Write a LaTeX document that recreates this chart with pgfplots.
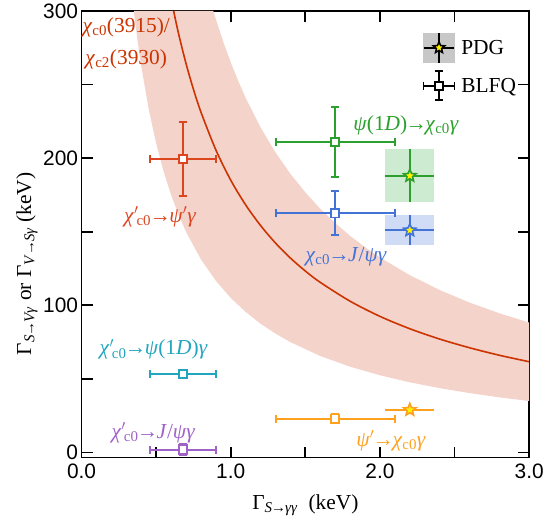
\documentclass[border=0pt]{standalone}
\usepackage{pgfplots}
\pgfplotsset{compat=1.18}
\usepackage{fontspec}
\setmainfont{Liberation Serif}
\setsansfont{Liberation Sans}

\definecolor{cRed}{HTML}{CC3300}
\definecolor{cRedPt}{HTML}{DD4420}
\definecolor{cBand}{HTML}{F3D3CA}
\definecolor{cGreen}{HTML}{2CA02C}
\definecolor{cGreenBox}{HTML}{CDEBD1}
\definecolor{cBlue}{HTML}{4473D7}
\definecolor{cBlueBox}{HTML}{D0DCF5}
\definecolor{cCyan}{HTML}{22A5BE}
\definecolor{cPurple}{HTML}{9F62C8}
\definecolor{cOrange}{HTML}{FFA11F}

\pgfdeclareplotmark{fstar}{%
  \pgfpathmoveto{\pgfpointpolar{90}{\pgfplotmarksize}}%
  \pgfpathlineto{\pgfpointpolar{126}{0.45\pgfplotmarksize}}%
  \pgfpathlineto{\pgfpointpolar{162}{\pgfplotmarksize}}%
  \pgfpathlineto{\pgfpointpolar{198}{0.45\pgfplotmarksize}}%
  \pgfpathlineto{\pgfpointpolar{234}{\pgfplotmarksize}}%
  \pgfpathlineto{\pgfpointpolar{270}{0.45\pgfplotmarksize}}%
  \pgfpathlineto{\pgfpointpolar{306}{\pgfplotmarksize}}%
  \pgfpathlineto{\pgfpointpolar{342}{0.45\pgfplotmarksize}}%
  \pgfpathlineto{\pgfpointpolar{18}{\pgfplotmarksize}}%
  \pgfpathlineto{\pgfpointpolar{54}{0.45\pgfplotmarksize}}%
  \pgfpathclose
  \pgfusepathqfillstroke}

\pgfplotsset{
  blfq/.style={only marks, color=#1, mark=square*, mark size=4.2pt,
    mark options={fill=white, line width=1.9pt, solid},
    error bars/.cd, x dir=both, x explicit, y dir=both, y explicit,
    error bar style={line width=2pt, color=#1},
    error mark options={line width=2pt, mark size=4pt, rotate=90, color=#1},
    /pgfplots/.cd},
  pdg/.style={only marks, color=#1, mark=fstar, mark size=6.5pt,
    mark options={fill=yellow, draw=#1, line width=1.6pt, solid},
    error bars/.cd, x dir=both, x explicit, y dir=both, y explicit,
    error bar style={line width=2pt, color=#1}, error mark=none,
    /pgfplots/.cd},
}

\newcommand{\ar}{\kern-1.6pt→\kern-1.6pt}
\newcommand{\sar}{\kern-1pt→\kern-1pt}
\newcommand{\chic}[1]{\textit{χ}\textsubscript{c#1}}
\newcommand{\chip}{\textit{χ}$'$\kern-2pt\textsubscript{c0}}

\begin{document}
\begin{tikzpicture}[font=\fontsize{21.5}{25}\selectfont]
\begin{axis}[
  scale only axis, width=450pt, height=449pt,
  xmin=0, xmax=3, ymin=-3.4, ymax=300,
  xtick={0,0.5,...,3}, xticklabels={0.0,,1.0,,2.0,,3.0},
  ytick={0,50,...,300}, yticklabels={0,,100,,200,,300},
  tick align=inside, major tick length=11pt,
  tick style={line width=1.8pt, black},
  axis line style={line width=1.8pt},
  tick label style={font=\fontsize{21}{25}\sffamily},
  xticklabel style={yshift=-3pt},
  /pgf/number format/assume math mode=true,
  xlabel={Γ\textsubscript{\textit{S}\sar\textit{γγ}}\ \ (keV)},
  ylabel={Γ\textsubscript{\textit{S}\sar\textit{Vγ}} or Γ\textsubscript{\textit{V}\sar\textit{Sγ}} (keV)},
  xlabel style={at={(axis description cs:0.5,-0.107)}, anchor=center},
  ylabel style={at={(axis description cs:-0.122,0.434)}, anchor=center},
  legend style={at={(axis description cs:0.755,0.958)}, anchor=north west, draw=none, fill=none,
    font=\fontsize{21.5}{25}\selectfont, row sep=7pt,
    /tikz/every odd column/.append style={column sep=4pt}},
  legend cell align=left,
]
% band
\addplot[fill=cBand, draw=none, forget plot] coordinates {
 (0.883,300) (0.9,294.4) (0.95,278.9) (1.0,265) (1.05,252.4) (1.1,240.9) (1.2,220.8)
 (1.3,203.8) (1.4,189.3) (1.5,176.7) (1.6,165.6) (1.7,155.9) (1.8,147.2) (1.9,139.5)
 (2.0,132.5) (2.2,120.5) (2.4,110.4) (2.6,101.9) (2.8,94.6) (3.0,88.3)
 (3.0,35) (2.8,37.5) (2.6,40.4) (2.4,43.75) (2.2,47.7) (2.0,52.5) (1.8,58.3) (1.6,65.6)
 (1.4,75) (1.3,80.8) (1.2,87.5) (1.1,95.5) (1.0,105) (0.9,116.7) (0.8,131.25) (0.7,150)
 (0.65,161.5) (0.6,175) (0.55,190.9) (0.5,210) (0.45,233.3) (0.4,262.5) (0.375,280) (0.35,300)
} -- cycle;
% central curve
\addplot[cRed, line width=1.6pt, smooth, forget plot] coordinates {
 (0.617,300) (0.65,284.6) (0.7,264.3) (0.75,246.7) (0.8,231.3) (0.9,205.6) (1.0,185)
 (1.1,168.2) (1.2,154.2) (1.3,142.3) (1.4,132.1) (1.5,123.3) (1.6,115.6) (1.8,102.8)
 (2.0,92.5) (2.2,84.1) (2.4,77.1) (2.6,71.2) (2.8,66.1) (3.0,61.7)
};
% PDG boxes
\addplot[fill=cGreenBox, draw=none, forget plot] coordinates {(2.035,170) (2.365,170) (2.365,206) (2.035,206)} -- cycle;
\addplot[fill=cBlueBox, draw=none, forget plot] coordinates {(2.035,140.7) (2.365,140.7) (2.365,161.3) (2.035,161.3)} -- cycle;
% PDG points
\addplot[forget plot, pdg=cGreen] coordinates {(2.2,188) +- (0.165,18)};
\addplot[forget plot, pdg=cBlue] coordinates {(2.2,151) +- (0.165,10.3)};
\addplot[forget plot, pdg=cOrange] coordinates {(2.2,29) +- (0.165,1.2)};
% BLFQ points
\addplot[forget plot, blfq=cRedPt] coordinates {(0.68,199.5) +- (0.22,25)};
\addplot[forget plot, blfq=cGreen] coordinates {(1.7,211) +- (0.4,24)};
\addplot[forget plot, blfq=cBlue] coordinates {(1.7,162.5) +- (0.4,15)};
\addplot[forget plot, blfq=cCyan] coordinates {(0.68,53.5) +- (0.22,0)};
\addplot[forget plot, blfq=cPurple] coordinates {(0.68,2) +- (0.22,4)};
\addplot[forget plot, blfq=cOrange] coordinates {(1.7,23) +- (0.4,3)};
% legend
\addlegendimage{legend image code/.code={
  \fill[black!22] (0pt,-15pt) rectangle (31pt,15pt);
  \draw[line width=1.8pt] (0pt,0pt)--(31pt,0pt) (15.5pt,-15pt)--(15.5pt,15pt);
  \begin{scope}[shift={(15.5pt,0pt)}, fill=yellow, draw=black, line width=1.5pt]
    \pgfsetplotmarksize{6pt}\pgfuseplotmark{fstar}
  \end{scope}}}
\addlegendentry{PDG}
\addlegendimage{legend image code/.code={
  \draw[line width=1.8pt] (0pt,0pt)--(31pt,0pt) (0pt,-4pt)--(0pt,4pt) (31pt,-4pt)--(31pt,4pt)
    (15.5pt,-14.5pt)--(15.5pt,14.5pt) (11.5pt,-14.5pt)--(19.5pt,-14.5pt) (11.5pt,14.5pt)--(19.5pt,14.5pt);
  \draw[fill=white, line width=1.8pt] (11.5pt,-4pt) rectangle (19.5pt,4pt);}}
\addlegendentry{BLFQ}
% labels
\node[anchor=west, text=cRed, inner sep=0pt] at (axis cs:0.005,289) {\chic{0}(3915)/};
\node[anchor=west, text=cRed, inner sep=0pt] at (axis cs:0.025,267) {\chic{2}(3930)};
\node[anchor=east, text=cRedPt, inner sep=0pt] at (axis cs:0.77,160) {\chip\ar\textit{ψ}$'$\textit{γ}};
\node[anchor=west, text=cGreen, inner sep=0pt] at (axis cs:1.82,222) {\textit{ψ}(1\textit{D})\ar\chic{0}\textit{γ}};
\node[anchor=west, text=cBlue, inner sep=0pt] at (axis cs:1.5,133) {\chic{0}\ar\textit{J}/\textit{ψγ}};
\node[anchor=west, text=cCyan, inner sep=0pt] at (axis cs:0.12,70) {\chip\ar\textit{ψ}(1\textit{D})\textit{γ}};
\node[anchor=west, text=cPurple, inner sep=0pt] at (axis cs:0.2,13.5) {\chip\ar\textit{J}/\textit{ψγ}};
\node[anchor=west, text=cOrange, inner sep=0pt] at (axis cs:1.84,8) {\textit{ψ}$'$\ar\chic{0}\textit{γ}};
\end{axis}
\path (current axis.south west) ++(-82pt,-67pt) (current axis.north east) ++(15pt,11pt);
\end{tikzpicture}
\end{document}
